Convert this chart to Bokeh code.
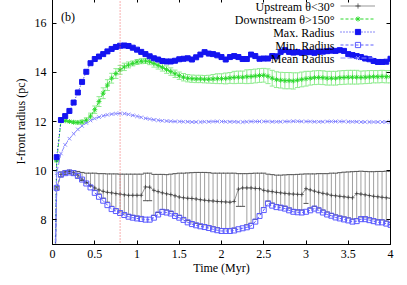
from bokeh.plotting import figure
from bokeh.models import (ColumnDataSource, Whisker, TeeHead, Span, Label, LinearAxis,
                          FixedTicker, Legend, LegendItem, Range1d, CustomJSTickFormatter)
from bokeh.embed import file_html
from bokeh.resources import INLINE

# ---------------- data ----------------
time_myr = [0.0, 0.05, 0.1, 0.15, 0.2, 0.25, 0.3, 0.35, 0.4, 0.45,
            0.5, 0.55, 0.6, 0.65, 0.7, 0.75, 0.8, 0.85, 0.9, 0.95,
            1.0, 1.05, 1.1, 1.15, 1.2, 1.25, 1.3, 1.35, 1.4, 1.45,
            1.5, 1.55, 1.6, 1.65, 1.7, 1.75, 1.8, 1.85, 1.9, 1.95,
            2.0, 2.05, 2.1, 2.15, 2.2, 2.25, 2.3, 2.35, 2.4, 2.45,
            2.5, 2.55, 2.6, 2.65, 2.7, 2.75, 2.8, 2.85, 2.9, 2.95,
            3.0, 3.05, 3.1, 3.15, 3.2, 3.25, 3.3, 3.35, 3.4, 3.45,
            3.5, 3.55, 3.6, 3.65, 3.7, 3.75, 3.8, 3.85, 3.9, 3.95,
            4.0]

max_radius = [0, 10.55, 12.06, 12.22, 12.43, 12.77, 13.18, 13.61, 14.02, 14.37,
              14.54, 14.64, 14.74, 14.85, 14.95, 15.03, 15.08, 15.09, 15.07, 15.00,
              14.92, 14.83, 14.74, 14.65, 14.57, 14.52, 14.46, 14.44, 14.44, 14.47,
              14.53, 14.55, 14.57, 14.52, 14.61, 14.72, 14.82, 14.76, 14.74, 14.69,
              14.62, 14.52, 14.62, 14.66, 14.62, 14.54, 14.54, 14.72, 14.66, 14.55,
              14.56, 14.56, 14.66, 14.65, 14.83, 14.90, 14.83, 14.80, 14.82, 14.79,
              14.82, 14.82, 14.79, 14.84, 14.84, 14.86, 14.88, 14.87, 14.90, 14.87,
              14.74, 14.70, 14.66, 14.62, 14.56, 14.53, 14.46, 14.42, 14.42, 14.43,
              14.55]

min_radius = [0, 9.3, 9.84, 9.9, 9.93, 9.9, 9.79, 9.64, 9.48, 9.32,
              9.1, 8.94, 8.78, 8.6, 8.44, 8.36, 8.28, 8.2, 8.13, 8.09,
              8.06, 8.04, 8.01, 8.01, 8.09, 8.22, 8.33, 8.3, 8.26, 8.16,
              8.09, 8.0, 7.9, 7.83, 7.78, 7.74, 7.71, 7.67, 7.62, 7.58,
              7.55, 7.55, 7.55, 7.57, 7.62, 7.66, 7.7, 7.76, 7.93, 8.16,
              8.4, 8.67, 8.58, 8.52, 8.5, 8.46, 8.39, 8.33, 8.31, 8.3,
              8.33, 8.39, 8.46, 8.39, 8.3, 8.22, 8.17, 8.1, 8.06, 8.02,
              7.98, 7.93, 7.95, 8.03, 8.03, 7.99, 7.95, 7.9, 7.9, 7.85,
              7.8]

mean_radius = [0, 9.9, 10.7, 11.05, 11.3, 11.5, 11.68, 11.82, 11.94, 12.04,
               12.12, 12.18, 12.23, 12.27, 12.30, 12.32, 12.33, 12.32, 12.29, 12.25,
               12.21, 12.17, 12.13, 12.10, 12.07, 12.05, 12.03, 12.02, 12.01, 12.00,
               12.0, 11.99, 11.99, 11.98, 11.98, 11.98, 11.99, 11.99, 12.0, 12.0,
               12.0, 11.99, 11.99, 11.99, 11.98, 11.98, 11.99, 12.0, 12.0, 12.0,
               12.0, 12.0, 11.99, 11.99, 11.99, 12.0, 12.0, 12.01, 12.01, 12.0,
               12.0, 12.0, 11.99, 11.99, 11.99, 12.0, 12.0, 12.0, 12.0, 12.0,
               11.99, 11.99, 11.99, 11.98, 11.98, 11.98, 11.98, 11.98, 11.98, 11.98,
               11.98]

upstream = [0, 9.3, 9.85, 9.95, 9.97, 9.92, 9.82, 9.65, 9.52, 9.40,
            9.30, 9.22, 9.16, 9.12, 9.10, 9.07, 9.05, 9.02, 9.0, 9.0,
            9.0, 9.0, 9.34, 9.33, 9.2, 9.15, 9.1, 9.06, 9.03, 8.98,
            8.93, 8.9, 8.88, 8.87, 8.85, 8.82, 8.8, 8.78, 8.77, 8.75,
            8.74, 8.73, 8.72, 8.75, 9.25, 9.3, 9.3, 9.3, 9.28, 9.27,
            9.2, 9.17, 9.15, 9.12, 9.1, 9.08, 9.06, 9.05, 9.04, 9.03,
            9.27, 9.22, 9.17, 9.12, 9.08, 9.05, 9.0, 8.98, 8.96, 8.94,
            8.92, 8.9, 9.07, 9.05, 9.02, 8.99, 8.96, 8.94, 8.92, 8.9,
            8.88]

upstream_high = [0, 9.35, 9.95, 10.0, 10.02, 10.0, 9.97, 9.93, 9.9, 9.9,
                 9.9, 9.88, 9.88, 9.87, 9.87, 9.87, 9.86, 9.86, 9.86, 9.86,
                 9.86, 9.86, 9.9, 9.9, 9.85, 9.85, 9.85, 9.84, 9.86, 9.88,
                 9.9, 9.9, 9.91, 9.92, 9.93, 9.93, 9.93, 9.92, 9.9, 9.9,
                 9.9, 9.9, 9.9, 9.9, 9.88, 9.88, 9.88, 9.89, 9.9, 9.9,
                 9.9, 9.86, 9.84, 9.82, 9.82, 9.83, 9.84, 9.84, 9.85, 9.86,
                 9.87, 9.87, 9.87, 9.88, 9.88, 9.88, 9.9, 9.9, 9.92, 9.94,
                 9.95, 9.96, 9.97, 9.98, 9.97, 9.96, 9.96, 9.97, 9.97, 9.98,
                 9.98]

upstream_low = [0, 9.25, 9.75, 9.85, 9.88, 9.82, 9.7, 9.6, 9.5, 9.38,
                9.2, 9.05, 8.88, 8.72, 8.55, 8.45, 8.36, 8.28, 8.22, 8.18,
                8.15, 8.12, 8.78, 8.78, 8.18, 8.3, 8.42, 8.4, 8.34, 8.25,
                8.18, 8.08, 7.98, 7.92, 7.86, 7.82, 7.8, 7.76, 7.72, 7.68,
                7.65, 7.64, 7.64, 7.66, 8.55, 8.55, 7.8, 7.86, 8.02, 8.25,
                8.5, 8.76, 8.68, 8.62, 8.58, 8.55, 8.48, 8.42, 8.4, 8.4,
                8.67, 8.48, 8.55, 8.48, 8.4, 8.32, 8.26, 8.2, 8.15, 8.12,
                8.08, 8.03, 8.05, 8.12, 8.12, 8.08, 8.04, 8.0, 8.0, 7.95,
                7.9]

downstream = [0, 10.4, 12.02, 12.03, 12.0, 11.97, 11.96, 11.98, 12.05, 12.22,
              12.48, 12.81, 13.15, 13.48, 13.76, 13.95, 14.1, 14.22, 14.3, 14.36,
              14.42, 14.45, 14.46, 14.43, 14.36, 14.28, 14.2, 14.11, 14.03, 13.94,
              13.86, 13.8, 13.76, 13.74, 13.73, 13.73, 13.72, 13.72, 13.73, 13.74,
              13.74, 13.75, 13.77, 13.79, 13.8, 13.8, 13.82, 13.83, 13.85, 13.87,
              13.88, 13.84, 13.76, 13.7, 13.68, 13.66, 13.66, 13.65, 13.68, 13.71,
              13.74, 13.76, 13.78, 13.79, 13.78, 13.76, 13.76, 13.76, 13.78, 13.79,
              13.8, 13.8, 13.8, 13.79, 13.8, 13.81, 13.82, 13.82, 13.83, 13.82,
              13.82]

downstream_err = [0, 0.02, 0.03, 0.03, 0.04, 0.05, 0.06, 0.08, 0.1, 0.12,
                  0.15, 0.2, 0.22, 0.22, 0.2, 0.2, 0.18, 0.15, 0.12, 0.1,
                  0.1, 0.1, 0.1, 0.12, 0.15, 0.15, 0.15, 0.15, 0.15, 0.15,
                  0.15, 0.15, 0.15, 0.15, 0.15, 0.15, 0.15, 0.16, 0.18, 0.2,
                  0.2, 0.22, 0.22, 0.25, 0.25, 0.25, 0.28, 0.28, 0.28, 0.28,
                  0.28, 0.3, 0.32, 0.32, 0.32, 0.33, 0.33, 0.33, 0.3, 0.3,
                  0.3, 0.28, 0.28, 0.28, 0.28, 0.28, 0.28, 0.28, 0.28, 0.28,
                  0.28, 0.28, 0.28, 0.26, 0.26, 0.26, 0.25, 0.25, 0.25, 0.25,
                  0.25]

series_names = ["Upstream θ<30°", "Downstream θ>150°", "Max. Radius",
                "Min. Radius", "Mean Radius"]
x_ticks = [0, 0.5, 1, 1.5, 2, 2.5, 3, 3.5, 4]
y_ticks = [8, 10, 12, 14, 16]
marker_time = 0.8

# ---------------- styling ----------------
FONT = "Liberation Serif"
FS = "12px"
C_UP = "#505050"
C_UP_BAR = "#a0a0a0"
C_UP_CAP = "#555555"
C_DOWN = "#2ad82a"
C_DOWN_BAR = "#90ec90"
C_MAX = "#1414f0"
C_MIN = "#5c5cff"
C_MEAN = "#8a8aff"

down_hi = [d + e for d, e in zip(downstream, downstream_err)]
down_lo = [d - e for d, e in zip(downstream, downstream_err)]

src = ColumnDataSource(dict(
    t=time_myr, up=upstream, down=downstream,
    mx=max_radius, mn=min_radius, mean=mean_radius))
# error bars only where there is data (skip t = 0)
err_src = ColumnDataSource(dict(
    t=time_myr[1:], up_hi=upstream_high[1:], up_lo=upstream_low[1:],
    down_hi=down_hi[1:], down_lo=down_lo[1:]))

p = figure(width=399, height=279, output_backend="svg", toolbar_location=None,
           x_range=Range1d(0, 4), y_range=Range1d(7, 17),
           min_border_left=52, min_border_right=9, min_border_top=0, min_border_bottom=32)
p.styles = {"margin-top": "-2px"}
p.background_fill_color = "white"
p.border_fill_color = "white"
p.outline_line_color = "black"
p.outline_line_width = 1
p.xgrid.visible = False
p.ygrid.visible = False

fmt = CustomJSTickFormatter(code="return String(Math.round(tick*100)/100);")
blank = CustomJSTickFormatter(code="return '';")

for ax in p.xaxis:
    ax.ticker = FixedTicker(ticks=x_ticks)
    ax.formatter = fmt
for ax in p.yaxis:
    ax.ticker = FixedTicker(ticks=y_ticks)

for ax in list(p.xaxis) + list(p.yaxis):
    ax.major_tick_in = 4
    ax.major_tick_out = 0
    ax.minor_tick_line_color = None
    ax.axis_line_color = "black"
    ax.major_label_text_font = FONT
    ax.major_label_text_font_size = FS
    ax.major_label_text_color = "black"
    ax.axis_label_text_font = FONT
    ax.axis_label_text_font_size = FS
    ax.axis_label_text_font_style = "normal"
    ax.axis_label_text_color = "black"

p.xaxis.axis_label = "Time (Myr)"
p.xaxis.major_label_standoff = 5
p.xaxis.axis_label_standoff = 0
p.yaxis.axis_label = "I-front radius (pc)"
p.yaxis.major_label_standoff = 6
p.yaxis.axis_label_standoff = 4

# mirrored tick marks on top and right
top_ax = LinearAxis(ticker=FixedTicker(ticks=x_ticks), formatter=blank,
                    major_tick_in=4, major_tick_out=0, minor_tick_line_color=None,
                    major_label_standoff=0, axis_line_color="black")
right_ax = LinearAxis(ticker=FixedTicker(ticks=y_ticks), formatter=blank,
                      major_tick_in=4, major_tick_out=0, minor_tick_line_color=None,
                      major_label_standoff=0, axis_line_color="black")
p.add_layout(top_ax, "above")
p.add_layout(right_ax, "right")

# error bars
p.add_layout(Whisker(source=err_src, base="t", upper="up_hi", lower="up_lo",
                     line_color=C_UP_BAR, line_width=1,
                     upper_head=TeeHead(size=5, line_color=C_UP_CAP, line_width=1),
                     lower_head=TeeHead(size=5, line_color=C_UP_CAP, line_width=1)))
p.add_layout(Whisker(source=err_src, base="t", upper="down_hi", lower="down_lo",
                     line_color=C_DOWN_BAR, line_width=1,
                     upper_head=TeeHead(size=5, line_color=C_DOWN_BAR, line_width=1),
                     lower_head=TeeHead(size=5, line_color=C_DOWN_BAR, line_width=1)))

# upstream
up_l = p.line("t", "up", source=src, line_color=C_UP, line_width=0.6)
up_m = p.scatter("t", "up", source=src, marker="cross", size=4, line_color="#333333",
                 line_width=0.7)
# downstream
dn_l = p.line("t", "down", source=src, line_color=C_DOWN, line_width=1, line_dash="3 2")
dn_m = p.scatter("t", "down", source=src, marker="asterisk", size=5, line_color=C_DOWN,
                 line_width=0.9)
# max
mx_l = p.line("t", "mx", source=src, line_color=C_MAX, line_width=1, line_dash="1 2")
mx_m = p.scatter("t", "mx", source=src, marker="square", size=5, fill_color=C_MAX,
                 line_color=C_MAX)
# min
mn_l = p.line("t", "mn", source=src, line_color=C_MIN, line_width=1, line_dash="3 2")
mn_m = p.scatter("t", "mn", source=src, marker="square", size=5, fill_color=None,
                 line_color=C_MIN, line_width=1)
# mean
me_l = p.line("t", "mean", source=src, line_color=C_MEAN, line_width=1, line_dash="5 2")
me_m = p.scatter("t", "mean", source=src, marker="x", size=5, line_color=C_MEAN,
                 line_width=1)

p.add_layout(Span(location=marker_time, dimension="height", line_color="#f06060",
                  line_width=1, line_dash="1 2"))

p.add_layout(Label(x=0.1, y=15.95, text="(b)", text_font=FONT, text_font_size=FS,
                   text_color="black"))

# legend: samples drawn by Bokeh's Legend (glyphs only), texts right-aligned to their left
legend = Legend(items=[
    LegendItem(label=" ", renderers=[up_l, up_m]),
    LegendItem(label=" ", renderers=[dn_l, dn_m]),
    LegendItem(label=" ", renderers=[mx_l, mx_m]),
    LegendItem(label=" ", renderers=[mn_l, mn_m]),
    LegendItem(label=" ", renderers=[me_l, me_m]),
], location=(288, 180), glyph_width=35, glyph_height=13, label_height=13,
   label_standoff=0, spacing=0, padding=0, margin=0,
   label_text_font=FONT, label_text_font_size="8px",
   border_line_color=None, background_fill_alpha=0)
p.add_layout(legend)

legend_text_x = 282      # screen px from frame left (right edge of texts)
legend_top_y = 238       # screen px from frame bottom (centre of first row)
legend_pitch = 13
for i, name in enumerate(series_names):
    p.add_layout(Label(x=legend_text_x, y=legend_top_y - i * legend_pitch, text=name,
                       x_units="screen", y_units="screen", text_align="right",
                       text_baseline="middle", text_font=FONT, text_font_size=FS,
                       text_color="black"))

open("out.html", "w").write(file_html(p, INLINE))
